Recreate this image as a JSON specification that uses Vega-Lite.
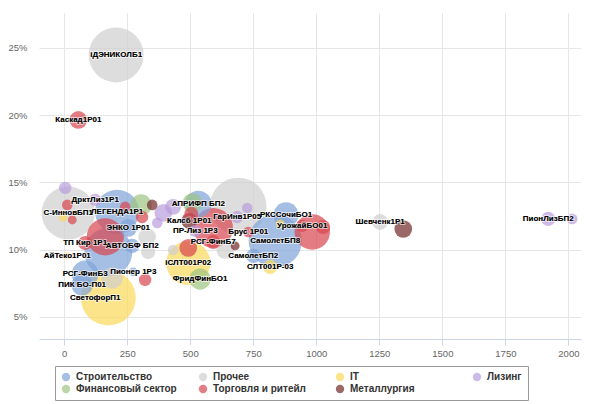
{
  "$schema": "https://vega.github.io/schema/vega-lite/v6.json",
  "width": 542,
  "height": 326,
  "autosize": {"type": "none"},
  "padding": {"left": 39, "top": 13, "right": 9, "bottom": 65},
  "background": "white",
  "config": {
    "view": {"stroke": null},
    "font": "Liberation Sans"
  },
  "data": {
    "values": [
      {"s": "Прочее", "x": 206, "y": 24.48, "v": 96, "l": "iДЭНИКОЛБ1"},
      {"s": "Прочее", "x": 16, "y": 12.73, "v": 90, "l": "С-ИнновБП1"},
      {"s": "Прочее", "x": 690, "y": 13.25, "v": 102, "l": ""},
      {"s": "Прочее", "x": 329, "y": 10.95, "v": 10, "l": ""},
      {"s": "Прочее", "x": 333, "y": 9.83, "v": 6.4, "l": ""},
      {"s": "Прочее", "x": 432, "y": 9.98, "v": 3.6, "l": ""},
      {"s": "Прочее", "x": 190, "y": 7.9, "v": 14.4, "l": ""},
      {"s": "Прочее", "x": 639, "y": 9.98, "v": 10, "l": ""},
      {"s": "Прочее", "x": 1253, "y": 12.06, "v": 8, "l": "Шевченк1Р1"},
      {"s": "Строительство", "x": 210, "y": 12.81, "v": 62, "l": "ЛЕГЕНДА1Р1"},
      {"s": "Строительство", "x": 175, "y": 9.83, "v": 73, "l": ""},
      {"s": "Строительство", "x": 83, "y": 8.2, "v": 22.5, "l": "РСГ-ФинБ3"},
      {"s": "Строительство", "x": 71, "y": 7.38, "v": 14.4, "l": "ПИК БО-П01"},
      {"s": "Строительство", "x": 274, "y": 8.35, "v": 2.5, "l": "Пионер 1Р3"},
      {"s": "Строительство", "x": 532, "y": 13.4, "v": 22.5, "l": "АПРИФП БП2"},
      {"s": "Строительство", "x": 880, "y": 12.6, "v": 19.6, "l": "РКССочиБО1"},
      {"s": "Строительство", "x": 837, "y": 10.65, "v": 90, "l": "СамолетБП8"},
      {"s": "Строительство", "x": 750, "y": 9.54, "v": 6.4, "l": "СамолетБП2"},
      {"s": "Строительство", "x": 254, "y": 11.62, "v": 10, "l": "ЭНКО 1Р01"},
      {"s": "Строительство", "x": 270, "y": 10.28, "v": 6.4, "l": "АВТОБФ БП2"},
      {"s": "IT", "x": 175, "y": 6.41, "v": 96, "l": ""},
      {"s": "IT", "x": 123, "y": 6.41, "v": 1.6, "l": "СветофорП1"},
      {"s": "IT", "x": 492, "y": 9.01, "v": 62, "l": "iСЛТ001Р02"},
      {"s": "IT", "x": 817, "y": 8.72, "v": 6.4, "l": "СЛТ001Р-03"},
      {"s": "IT", "x": 12, "y": 9.54, "v": 1.6, "l": "АйТеко1Р01"},
      {"s": "IT", "x": -4, "y": 12.43, "v": 2.5, "l": ""},
      {"s": "IT", "x": 857, "y": 11.92, "v": 2.5, "l": ""},
      {"s": "Лизинг", "x": 4, "y": 14.59, "v": 4.9, "l": ""},
      {"s": "Лизинг", "x": 123, "y": 13.7, "v": 4.9, "l": "ДрктЛиз1Р1"},
      {"s": "Лизинг", "x": 393, "y": 12.73, "v": 10, "l": ""},
      {"s": "Лизинг", "x": 432, "y": 13.18, "v": 8, "l": ""},
      {"s": "Лизинг", "x": 369, "y": 11.99, "v": 3.6, "l": ""},
      {"s": "Лизинг", "x": 726, "y": 13.1, "v": 3.6, "l": ""},
      {"s": "Лизинг", "x": 1920, "y": 12.29, "v": 6.4, "l": "ПионЛизБП2"},
      {"s": "Лизинг", "x": 2015, "y": 12.29, "v": 3.6, "l": ""},
      {"s": "Лизинг", "x": 686, "y": 12.43, "v": 4.9, "l": "ГарИнв1Р05"},
      {"s": "Лизинг", "x": 520, "y": 11.4, "v": 4.9, "l": "ПР-Лиз 1Р3"},
      {"s": "Финансовый сектор", "x": 305, "y": 13.33, "v": 14.4, "l": ""},
      {"s": "Финансовый сектор", "x": 508, "y": 13.48, "v": 12, "l": ""},
      {"s": "Финансовый сектор", "x": 539, "y": 7.82, "v": 14.4, "l": "ФридФинБО1"},
      {"s": "Торговля и ритейл", "x": 56, "y": 19.65, "v": 10, "l": "Каскад1Р01"},
      {"s": "Торговля и ритейл", "x": 12, "y": 13.33, "v": 3.6, "l": ""},
      {"s": "Торговля и ритейл", "x": 32, "y": 12.21, "v": 2.5, "l": ""},
      {"s": "Торговля и ритейл", "x": 163, "y": 10.95, "v": 44, "l": ""},
      {"s": "Торговля и ритейл", "x": 242, "y": 13.18, "v": 3.6, "l": ""},
      {"s": "Торговля и ритейл", "x": 309, "y": 12.43, "v": 4.9, "l": ""},
      {"s": "Торговля и ритейл", "x": 321, "y": 7.75, "v": 4.9, "l": ""},
      {"s": "Торговля и ритейл", "x": 492, "y": 10.13, "v": 10, "l": ""},
      {"s": "Торговля и ритейл", "x": 591, "y": 11.62, "v": 50, "l": ""},
      {"s": "Торговля и ритейл", "x": 591, "y": 10.58, "v": 6.4, "l": "РСГ-ФинБ7"},
      {"s": "Торговля и ритейл", "x": 730, "y": 11.32, "v": 3.6, "l": "Брус 1Р01"},
      {"s": "Торговля и ритейл", "x": 984, "y": 11.32, "v": 40, "l": ""},
      {"s": "Торговля и ритейл", "x": 1027, "y": 11.69, "v": 6.4, "l": ""},
      {"s": "Торговля и ритейл", "x": 944, "y": 11.77, "v": 4.9, "l": "УрожайБО01"},
      {"s": "Торговля и ритейл", "x": 83, "y": 10.5, "v": 6.4, "l": "ТП Кир 1Р1"},
      {"s": "Торговля и ритейл", "x": 504, "y": 12.66, "v": 6.4, "l": ""},
      {"s": "Металлургия", "x": 349, "y": 13.33, "v": 3.6, "l": ""},
      {"s": "Металлургия", "x": 496, "y": 12.14, "v": 8, "l": "Калсб 1Р01"},
      {"s": "Металлургия", "x": 678, "y": 10.28, "v": 2.5, "l": ""},
      {"s": "Металлургия", "x": 1345, "y": 11.54, "v": 10, "l": ""}
    ]
  },
  "encoding": {
    "x": {
      "field": "x", "type": "quantitative",
      "scale": {"domain": [-100, 2050], "nice": false, "zero": false},
      "axis": {
        "title": null, "values": [0, 250, 500, 750, 1000, 1250, 1500, 1750, 2000],
        "format": "d",
        "grid": true, "gridColor": "#e6e6e6", "domainColor": "#ccd6eb",
        "tickColor": "#ccd6eb", "tickSize": 6, "labelColor": "#666666",
        "labelFontSize": 9.5, "labelPadding": 3, "labelFlush": false
      }
    },
    "y": {
      "field": "y", "type": "quantitative",
      "scale": {"domain": [3.36, 27.6], "nice": false, "zero": false},
      "axis": {
        "title": null, "values": [5, 10, 15, 20, 25],
        "labelExpr": "datum.value + '%'",
        "grid": true, "gridColor": "#e6e6e6", "domain": false, "ticks": false,
        "labelColor": "#666666", "labelFontSize": 9.5, "labelPadding": 12
      }
    }
  },
  "layer": [
    {
      "mark": {"type": "point", "filled": true, "opacity": 0.7, "strokeWidth": 0},
      "encoding": {
        "size": {
          "field": "v", "type": "quantitative",
          "scale": {"domain": [0, 102.4], "range": [0, 3217], "zero": true},
          "legend": null
        },
        "color": {
          "field": "s", "type": "nominal",
          "scale": {
            "domain": ["Строительство", "Прочее", "IT", "Лизинг", "Финансовый сектор", "Торговля и ритейл", "Металлургия"],
            "range": ["#7fa3d9", "#cfcfcf", "#fbd95a", "#b99ddb", "#9dc482", "#d9464f", "#722a2a"]
          },
          "legend": {
            "title": null, "orient": "none", "legendX": 16, "legendY": 353,
            "direction": "horizontal", "columns": 4, "gridAlign": "all",
            "columnPadding": 21, "rowPadding": 2, "padding": 6,
            "strokeColor": "#999999", "fillColor": "white",
            "symbolType": "circle", "symbolSize": 70, "symbolOpacity": 0.7,
            "labelFontSize": 10, "labelFontWeight": "bold", "labelColor": "#333333",
            "labelOffset": 5, "labelLimit": 200
          }
        },
        "order": {"field": "v", "type": "quantitative", "sort": "descending"}
      }
    },
    {
      "transform": [{"filter": "datum.l != ''"}],
      "mark": {"type": "text", "fontSize": 8, "fontWeight": "bold", "stroke": "white", "strokeWidth": 2, "strokeOpacity": 0.6, "strokeJoin": "round"},
      "encoding": {"text": {"field": "l"}}
    },
    {
      "transform": [{"filter": "datum.l != ''"}],
      "mark": {"type": "text", "fontSize": 8, "fontWeight": "bold", "color": "#000000"},
      "encoding": {"text": {"field": "l"}}
    }
  ]
}
